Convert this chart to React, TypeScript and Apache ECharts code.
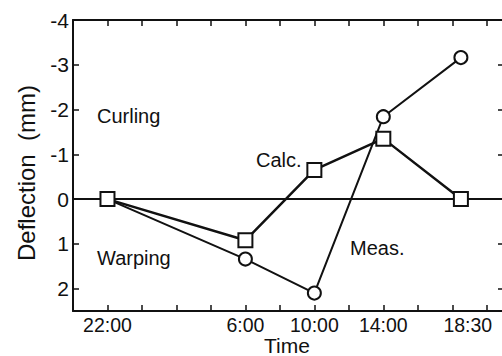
import React, { useEffect, useRef } from "react";
import * as echarts from "echarts";

// hours elapsed since 22:00
const hours = [0, 8, 12, 16, 20.5];
const timeLabels = ["22:00", "6:00", "10:00", "14:00", "18:30"];
const timeLabelAt = [0, 8, 12, 16, 20.9];
const calc = [0, 0.92, -0.65, -1.35, 0];
const meas = [0, 1.34, 2.1, -1.84, -3.16];
const yTickLabels = ["-4", "-3", "-2", "-1", "0", "1", "2"];
const yTickValues = [-4, -3, -2, -1, 0, 1, 2];

const FONT = "'Liberation Sans', Arial, Helvetica, sans-serif";
const INK = "#111";

export default function App() {
  const ref = useRef<HTMLDivElement>(null);
  useEffect(() => {
    if (!ref.current) return;
    const chart = echarts.init(ref.current, undefined, { renderer: "svg" });
    const axisLine = { show: true, onZero: false, lineStyle: { color: INK, width: 2 } };
    const tick = { show: true, inside: true, length: 6, lineStyle: { color: INK, width: 1.5 } };
    const xBase = { type: "value" as const, min: -2, max: 23, interval: 2, splitLine: { show: false }, axisLine, axisTick: tick };
    const yBase = { type: "value" as const, min: -4, max: 2.5, interval: 1, inverse: true, splitLine: { show: false }, axisLine, axisTick: tick };
    chart.setOption({
      animation: false,
      backgroundColor: "#fff",
      grid: { left: 73, right: -2, top: 20, bottom: 45, containLabel: false, outerBoundsMode: "none" },
      xAxis: [
        {
          ...xBase,
          position: "bottom",
          axisLabel: {
            customValues: timeLabelAt,
            margin: 6,
            fontFamily: FONT,
            fontSize: 19.5,
            lineHeight: 16,
            color: INK,
            formatter: (v: number) => {
              const i = timeLabelAt.indexOf(v);
              return i >= 0 ? timeLabels[i] : "";
            },
          },
        },
        { ...xBase, position: "top", axisLabel: { show: false } },
      ],
      yAxis: [
        {
          ...yBase,
          position: "left",
          axisLabel: {
            margin: 4,
            fontFamily: FONT,
            fontSize: 21,
            color: INK,
            formatter: (v: number) => {
              const i = yTickValues.indexOf(v);
              return i >= 0 ? yTickLabels[i] : "";
            },
          },
        },
        { ...yBase, position: "right", axisLabel: { show: false } },
      ],
      series: [
        {
          name: "Meas.",
          type: "line",
          data: hours.map((h, i) => [h, meas[i]]),
          symbol: "circle",
          symbolSize: 13,
          lineStyle: { color: INK, width: 2 },
          itemStyle: { color: "#fff", borderColor: INK, borderWidth: 2 },
          z: 3,
        },
        {
          name: "Calc.",
          type: "line",
          data: hours.map((h, i) => [h, calc[i]]),
          symbol: "rect",
          symbolSize: 14,
          lineStyle: { color: INK, width: 2.5 },
          itemStyle: { color: "#fff", borderColor: INK, borderWidth: 2 },
          z: 4,
          markLine: {
            silent: true,
            symbol: "none",
            label: { show: false },
            lineStyle: { color: INK, width: 2, type: "solid" },
            data: [{ yAxis: 0 }],
            z: 1,
          },
        },
      ],
      graphic: [
        {
          type: "text",
          x: 26,
          y: 173,
          rotation: Math.PI / 2,
          style: { text: "Deflection\u00a0 (mm)", font: `24px ${FONT}`, fill: INK, textAlign: "center", textVerticalAlign: "middle" },
        },
        {
          type: "text",
          x: 287,
          y: 345,
          style: { text: "Time", font: `21px ${FONT}`, lineHeight: 18, fill: INK, textAlign: "center", textVerticalAlign: "middle" },
        },
        { type: "text", left: 97, top: 106, style: { text: "Curling", font: `20px ${FONT}`, fill: INK } },
        { type: "text", left: 97, top: 248, style: { text: "Warping", font: `20px ${FONT}`, fill: INK } },
        { type: "text", left: 256, top: 150, style: { text: "Calc.", font: `20px ${FONT}`, fill: INK } },
        { type: "text", left: 350, top: 238, style: { text: "Meas.", font: `20px ${FONT}`, fill: INK } },
      ],
    });
    return () => chart.dispose();
  }, []);
  return <div ref={ref} style={{ width: 502, height: 356, position: "absolute", left: 0, top: 0 }} />;
}
